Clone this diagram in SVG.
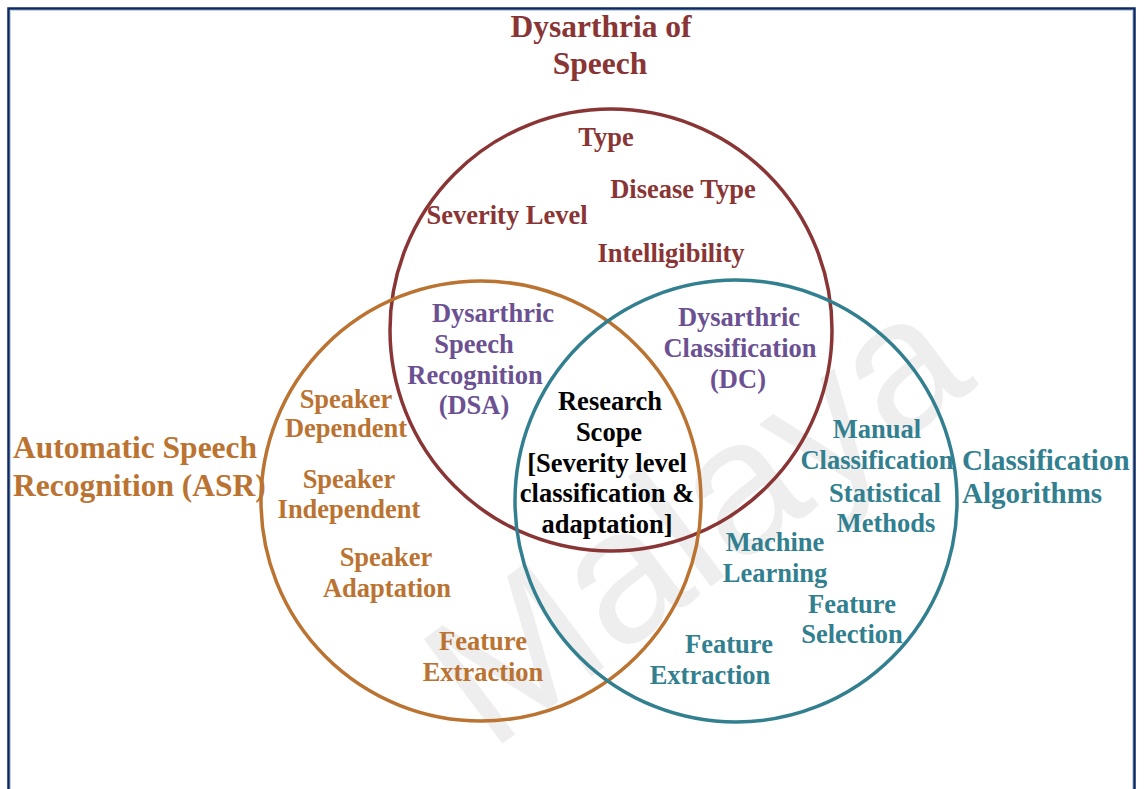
<svg xmlns="http://www.w3.org/2000/svg" width="1147" height="789" viewBox="0 0 1147 789">
<style>
text{font-family:"Liberation Serif","Times New Roman",serif;font-weight:bold;text-anchor:middle}
.r{fill:#8a3535;font-size:26.5px}
.o{fill:#bb7332;font-size:26.5px}
.t{fill:#327f8f;font-size:26.5px}
.p{fill:#6b5192;font-size:26.5px}
.k{fill:#000;font-size:26.5px}
.big{font-size:31.5px}
.circ{fill:none;stroke-width:3.5}
.wm{font-family:"Liberation Sans",Arial,sans-serif;font-weight:normal;fill:#eeeeee;font-size:190px;text-anchor:start}
</style>
<rect width="1147" height="789" fill="#fff"/>
<text class="wm" transform="translate(490,753) rotate(-37)">Malaya</text>
<path d="M8.5,789 V8.5 H1134.5 V789" fill="none" stroke="#0b2a63" stroke-width="2.5"/>
<path d="M10.5,789 V10.5 H1132.5 V789" fill="none" stroke="#c4d2e6" stroke-width="1"/>
<g id="circles">
<circle id="c-dys" class="circ" cx="611" cy="330" r="221" stroke="#8a3535"/>
<circle id="c-asr" class="circ" cx="481" cy="501" r="220" stroke="#bb7332"/>
<circle id="c-cls" class="circ" cx="736" cy="501" r="221" stroke="#327f8f"/>
</g>
<g id="dysarthria">
<text class="r big" x="601" y="37">Dysarthria of</text>
<text class="r big" x="600" y="74">Speech</text>
<text class="r" x="606" y="146">Type</text>
<text class="r" x="683" y="198">Disease Type</text>
<text class="r" x="507" y="224">Severity Level</text>
<text class="r" x="671" y="262">Intelligibility</text>
</g>
<g id="dsa">
<text class="p" x="493" y="322">Dysarthric</text>
<text class="p" x="474" y="353">Speech</text>
<text class="p" x="475" y="384">Recognition</text>
<text class="p" x="474" y="414">(DSA)</text>
</g>
<g id="dc">
<text class="p" x="739" y="326">Dysarthric</text>
<text class="p" x="740" y="357">Classification</text>
<text class="p" x="738" y="388">(DC)</text>
</g>
<g id="scope">
<text class="k" x="610" y="410">Research</text>
<text class="k" x="609" y="441">Scope</text>
<text class="k" x="607" y="472">[Severity level</text>
<text class="k" x="607" y="502">classification &amp;</text>
<text class="k" x="607" y="533">adaptation]</text>
</g>
<g id="asr">
<text class="o big" x="13" y="458" style="text-anchor:start">Automatic Speech</text>
<text class="o big" x="13" y="496" style="text-anchor:start">Recognition (ASR)</text>
<text class="o" x="346" y="408">Speaker</text>
<text class="o" x="346" y="437">Dependent</text>
<text class="o" x="349" y="488">Speaker</text>
<text class="o" x="349" y="518">Independent</text>
<text class="o" x="386" y="566">Speaker</text>
<text class="o" x="387" y="597">Adaptation</text>
<text class="o" x="483" y="650">Feature</text>
<text class="o" x="483" y="681">Extraction</text>
</g>
<g id="classification">
<text class="t big" x="962" y="470" style="text-anchor:start;font-size:29px">Classification</text>
<text class="t big" x="962" y="503" style="text-anchor:start;font-size:29px">Algorithms</text>
<text class="t" x="877" y="438">Manual</text>
<text class="t" x="877" y="469">Classification</text>
<text class="t" x="885" y="502">Statistical</text>
<text class="t" x="886" y="532">Methods</text>
<text class="t" x="775" y="551">Machine</text>
<text class="t" x="775" y="582">Learning</text>
<text class="t" x="852" y="613">Feature</text>
<text class="t" x="852" y="643">Selection</text>
<text class="t" x="729" y="653">Feature</text>
<text class="t" x="710" y="684">Extraction</text>
</g>
</svg>
